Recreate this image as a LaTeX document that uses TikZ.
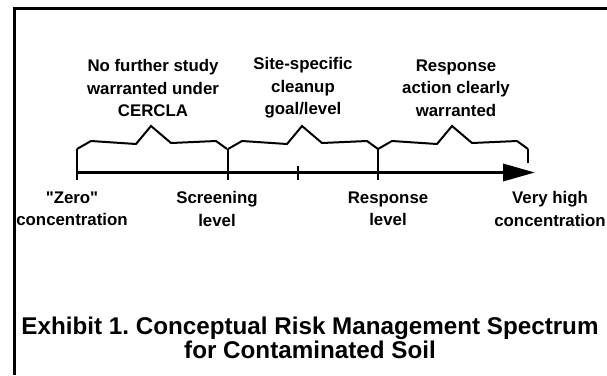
\documentclass[tikz,border=0pt]{standalone}
\usepackage{fontspec}
\setmainfont{Liberation Sans}[Ligatures=TeXOff]
\frenchspacing
\usetikzlibrary{arrows.meta,positioning}
\tikzset{>/.tip={Triangle[length=32bp,width=17bp]}}
\tikzset{lbl/.style={align=center,inner sep=0pt,font=\fontsize{16.9pt}{22.5pt}\selectfont\bfseries}}
\tikzset{capt/.style={align=center,inner sep=0pt,font=\fontsize{24.3pt}{24.5pt}\selectfont\bfseries}}
\tikzset{brc/.style={line width=2bp,line join=miter}}

\begin{document}
\begin{tikzpicture}[x=1bp,y=-1bp]
      \useasboundingbox (0,0) rectangle (607,375);
      \draw[line width=3.3bp] (14.3,375) -- (14.3,8.3) -- (607,8.3);

      % points on the scale
      \coordinate (zero) at (77,172.5);
      \coordinate (screen) at (228,172.5);
      \coordinate (cleanup) at (298,172.5);
      \coordinate (resp) at (378,172.5);
      \coordinate (high) at (535,172.5);
      \coordinate (hend) at (528,163);

      \draw[->,line width=3.5bp] (zero) -- (high);
      \foreach \t in {zero,screen,cleanup,resp}
        \draw[line width=2.7bp] (\t) ++(0,-6.5) -- ++(0,14);

      % braces
      \foreach \b in {77,228,378}
        \draw[brc] (\b,149) -- ++(14,-8) -- ++(45,3) -- ++(15,-18)
          -- ++(20,17) -- ++(45,-2) -- ++(11,8);
      \draw[brc] (zero) -- (zero |- 0,149)
        (screen) -- (screen |- 0,149)
        (resp) -- (resp |- 0,149)
        (hend) -- (hend |- 0,149);

      \node[lbl](nofurther) at (153,88){No further study\\warranted under\\CERCLA};
      \node[lbl](sitespec) at (303,88){Site-specific\\cleanup\\goal/level};
      \node[lbl](respact) at (456,88){Response\\action clearly\\warranted};

      \node[lbl](lzero) at (72,209){"Zero"\\concentration};
      \node[lbl](lscreen) at (217,209){Screening\\level};
      \node[lbl](lresp) at (388,209){Response\\level};
      \node[lbl](lhigh) at (550,209){Very high\\concentration};

      \node[capt](title) at (310,338){Exhibit 1. Conceptual Risk Management Spectrum\\for Contaminated Soil};
\end{tikzpicture}
\end{document}
